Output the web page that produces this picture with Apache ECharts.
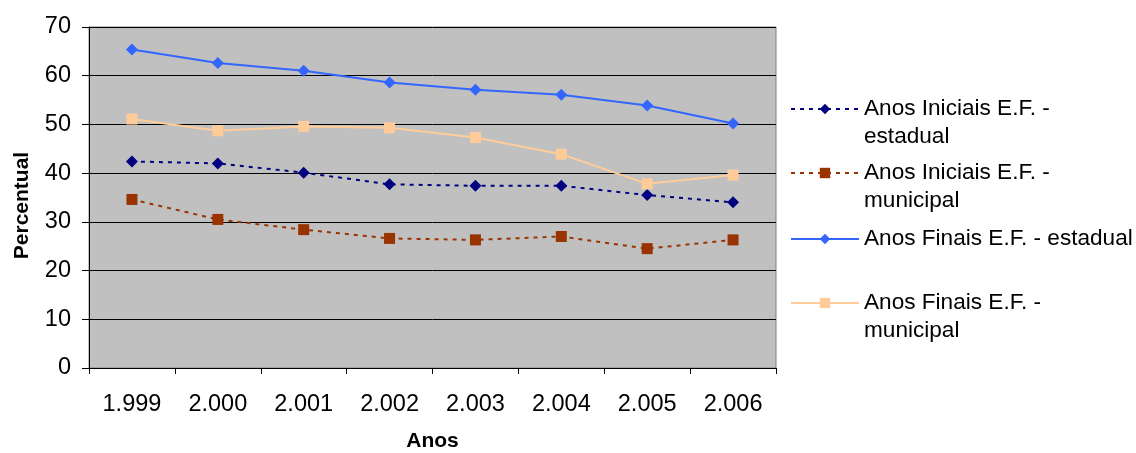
<!DOCTYPE html>
<html>
<head>
<meta charset="utf-8">
<script src="https://cdn.jsdelivr.net/npm/echarts@6/dist/echarts.min.js"></script>
<style>
  html, body { margin: 0; padding: 0; background: #fff; }
  #chart { width: 1136px; height: 453px; }
</style>
</head>
<body>
<div id="chart"></div>
<script>
// Years (Brazilian thousands notation, as printed on the axis)
const anos = ['1.999', '2.000', '2.001', '2.002', '2.003', '2.004', '2.005', '2.006'];

// Percentual per series
const iniciaisEstadual  = [42.4, 42.0, 40.1, 37.7, 37.4, 37.4, 35.5, 34.0];
const iniciaisMunicipal = [34.6, 30.5, 28.4, 26.6, 26.3, 27.0, 24.5, 26.3];
const finaisEstadual    = [65.4, 62.6, 61.0, 58.6, 57.1, 56.1, 53.9, 50.2];
const finaisMunicipal   = [51.1, 48.7, 49.6, 49.3, 47.3, 43.9, 37.8, 39.6];

const yTicks = { min: 0, max: 70, interval: 10 };

const nomes = [
  'Anos Iniciais E.F. -\nestadual',
  'Anos Iniciais E.F. -\nmunicipal',
  'Anos Finais E.F. - estadual',
  'Anos Finais E.F. -\nmunicipal'
];

const FONT = "'Liberation Sans', Arial, Helvetica, sans-serif";
const LH = 28;

// one legend block per series so each entry sits at its own row;
// two-line names get an empty leading line so the icon lines up with the first line
function legendBlock(name, top) {
  const twoLines = name.indexOf('\n') >= 0;
  return {
    orient: 'vertical',
    left: 790,
    top: top,
    padding: 0,
    itemWidth: 68,
    itemHeight: 13,
    itemGap: 0,
    data: [name],
    formatter: n => (twoLines ? '\n' + n : n),
    textStyle: {
      fontFamily: FONT,
      fontSize: 22.6,
      color: '#000',
      lineHeight: LH
    }
  };
}

const chart = echarts.init(document.getElementById('chart'), null, { renderer: 'canvas' });

chart.setOption({
  animation: false,
  textStyle: { fontFamily: FONT },
  grid: {
    left: 89, right: 360, top: 27, bottom: 85,
    outerBoundsMode: 'none',
    containLabel: false,
    show: true,
    backgroundColor: '#C0C0C0',
    borderColor: '#808080',
    borderWidth: 1
  },
  legend: [
    legendBlock(nomes[0], 109 - 42),
    legendBlock(nomes[1], 173 - 42),
    legendBlock(nomes[2], 239 - 14),
    legendBlock(nomes[3], 303 - 42)
  ],
  xAxis: {
    type: 'category',
    data: anos,
    boundaryGap: true,
    name: 'Anos',
    nameLocation: 'middle',
    nameGap: 63,
    nameTextStyle: { fontFamily: FONT, fontSize: 21, fontWeight: 'bold', color: '#000' },
    axisLine: { lineStyle: { color: '#000', width: 1 } },
    axisTick: { show: true, interval: 0, length: 6, lineStyle: { color: '#000' } },
    axisLabel: { fontFamily: FONT, fontSize: 23.5, color: '#000', margin: 25, interval: 0 },
    splitLine: { show: false }
  },
  yAxis: {
    type: 'value',
    min: yTicks.min,
    max: yTicks.max,
    interval: yTicks.interval,
    name: 'Percentual',
    nameLocation: 'middle',
    nameGap: 56,
    nameTextStyle: {
      fontFamily: FONT, fontSize: 21, fontWeight: 'bold', color: '#000',
      padding: [0, 16, 0, 0]
    },
    axisLine: { show: true, lineStyle: { color: '#000', width: 1 } },
    axisTick: { show: true, length: 7, lineStyle: { color: '#000' } },
    axisLabel: { fontFamily: FONT, fontSize: 23.5, color: '#000', margin: 18 },
    splitLine: { show: true, lineStyle: { color: '#000', width: 1 } }
  },
  series: [
    {
      name: nomes[0],
      type: 'line',
      data: iniciaisEstadual,
      symbol: 'diamond',
      symbolSize: 12,
      lineStyle: { color: '#000080', width: 2, type: [4, 5] },
      itemStyle: { color: '#000080' }
    },
    {
      name: nomes[1],
      type: 'line',
      data: iniciaisMunicipal,
      symbol: 'rect',
      symbolSize: 11,
      lineStyle: { color: '#993300', width: 2, type: [4, 5] },
      itemStyle: { color: '#993300' }
    },
    {
      name: nomes[2],
      type: 'line',
      data: finaisEstadual,
      symbol: 'diamond',
      symbolSize: 12,
      lineStyle: { color: '#3366FF', width: 2 },
      itemStyle: { color: '#3366FF' }
    },
    {
      name: nomes[3],
      type: 'line',
      data: finaisMunicipal,
      symbol: 'rect',
      symbolSize: 11,
      lineStyle: { color: '#FFCC99', width: 2 },
      itemStyle: { color: '#FFCC99' }
    }
  ]
});
</script>
</body>
</html>
